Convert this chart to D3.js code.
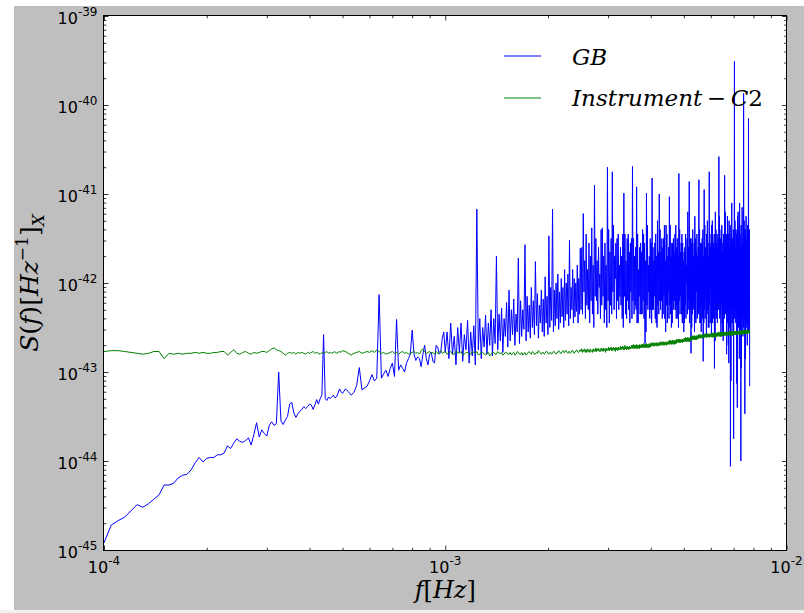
<!DOCTYPE html>
<html>
<head>
<meta charset="utf-8">
<script src="https://cdn.jsdelivr.net/npm/d3@7"></script>
<style>
  body { margin: 0; background: #ffffff; }
  svg { display: block; }
</style>
</head>
<body>
<div id="grafico"></div>
<script>
// Bandas de frecuencia (mHz): inicio, paso, cantidad de bins
const bandas = [
  [0.100, 0.005, 81],
  [0.51, 0.01, 50],
  [1.0125, 0.0125, 120],
  [2.5125, 0.0125, 424]
];

// Señal GB, log10 de S(f) por banda
const gb1 = [
  -44.92, -44.72, -44.67, -44.63, -44.56, -44.49, -44.52, -44.48, -44.43, -44.38,
  -44.27, -44.27, -44.25, -44.19, -44.16, -44.15, -44.10, -44.02, -43.96, -44.01,
  -43.97, -43.96, -43.96, -43.93, -43.93, -43.91, -43.83, -43.86, -43.80, -43.75,
  -43.78, -43.79, -43.77, -43.74, -43.82, -43.70, -43.57, -43.73, -43.65, -43.69,
  -43.72, -43.60, -43.56, -43.60, -43.58, -43.00, -43.55, -43.59, -43.54, -43.50,
  -43.36, -43.34, -43.46, -43.51, -43.47, -43.44, -43.42, -43.39, -43.41, -43.39,
  -43.36, -43.37, -43.42, -43.37, -43.31, -43.36, -43.30, -43.26, -42.58, -43.30,
  -43.32, -43.28, -43.30, -43.28, -43.26, -43.29, -43.28, -43.24, -43.19, -43.22,
  -43.24
];
const gb2 = [
  -43.19, -43.22, -43.26, -43.23, -43.15, -42.95, -43.20, -43.18, -43.16, -43.10,
  -43.03, -43.10, -43.07, -42.13, -43.07, -43.02, -42.98, -43.05, -42.96, -42.90,
  -43.05, -42.41, -42.98, -42.92, -42.96, -43.00, -42.90, -42.85, -42.80, -42.53,
  -42.80, -42.87, -42.83, -42.85, -42.94, -42.80, -42.70, -42.85, -42.92, -42.80,
  -42.78, -42.88, -42.90, -42.70, -42.72, -42.80, -42.78, -42.62, -42.55, -42.78
];
const gb3 = [
  -42.55, -42.85, -42.45, -42.80, -42.60, -42.92, -42.50, -42.78, -42.45, -42.88,
  -42.58, -42.75, -42.42, -42.90, -42.55, -42.82, -42.48, -42.92, -41.17, -42.75,
  -42.40, -42.85, -42.50, -42.72, -42.36, -42.80, -42.45, -42.70, -42.30, -42.82,
  -42.40, -42.68, -41.70, -42.75, -42.35, -42.65, -42.28, -42.78, -42.40, -42.60,
  -42.22, -42.72, -42.08, -42.65, -42.30, -42.58, -42.18, -42.70, -42.35, -42.55,
  -41.72, -42.68, -42.20, -42.60, -42.30, -42.52, -41.57, -42.65, -42.15, -42.55,
  -42.25, -42.62, -42.05, -42.50, -42.20, -42.58, -41.76, -42.48, -42.12, -42.62,
  -42.25, -42.45, -42.08, -42.55, -42.18, -42.60, -41.93, -42.45, -42.15, -42.58,
  -41.47, -42.50, -42.05, -42.42, -41.17, -42.55, -42.08, -42.48, -42.00, -42.40,
  -41.90, -42.52, -42.10, -42.45, -41.95, -42.38, -42.05, -42.50, -41.85, -42.42,
  -42.00, -42.35, -41.90, -42.48, -41.52, -42.40, -42.05, -42.30, -41.85, -42.45,
  -41.95, -42.38, -42.00, -42.32, -41.80, -42.45, -41.95, -42.35, -41.61, -42.30
];
const gb4 = [
  -41.60, -42.35, -41.22, -42.10, -41.75, -42.40, -41.45, -42.25, -41.85, -42.30, -41.55, -42.45, -41.70, -42.20, -41.38, -42.35, -41.80, -42.50, -40.90, -42.15,
  -41.50, -42.20, -41.75, -42.35, -41.60, -42.05, -41.90, -42.40, -41.40, -42.25, -41.38, -42.15, -41.70, -42.45, -41.55, -42.30, -41.80, -42.50, -40.70, -42.20,
  -41.40, -42.45, -41.65, -42.25, -41.50, -42.35, -40.75, -42.10, -41.35, -42.30, -41.70, -41.95, -41.55, -42.40, -41.50, -42.20, -41.45, -42.30, -41.80, -42.15,
  -41.60, -42.25, -41.70, -42.40, -41.45, -42.50, -40.99, -42.15, -41.45, -42.35, -41.75, -42.40, -41.50, -42.20, -41.45, -42.30, -41.65, -42.45, -41.55, -42.10,
  -41.50, -42.40, -40.69, -42.20, -41.50, -42.35, -41.70, -42.25, -41.60, -42.30, -40.92, -42.45, -41.45, -42.45, -41.85, -42.15, -41.60, -42.35, -41.55, -42.35,
  -41.65, -42.35, -41.40, -42.20, -41.45, -42.40, -41.55, -42.68, -41.75, -42.55, -40.99, -42.25, -41.35, -42.30, -41.80, -42.10, -41.70, -42.40, -41.50, -42.30,
  -41.55, -42.45, -40.82, -42.30, -41.60, -42.30, -41.75, -42.15, -41.55, -42.40, -41.45, -42.45, -41.70, -42.50, -41.30, -42.25, -41.65, -42.35, -41.00, -42.20,
  -41.40, -42.30, -41.65, -42.20, -41.50, -42.40, -41.60, -42.35, -41.50, -42.15, -41.35, -42.40, -41.75, -42.55, -41.35, -42.25, -41.45, -42.45, -41.70, -42.10,
  -41.60, -42.40, -41.03, -42.25, -41.35, -42.35, -41.70, -42.50, -41.55, -42.45, -41.55, -42.20, -41.50, -42.30, -41.65, -42.20, -41.45, -42.30, -41.35, -42.40,
  -41.60, -42.25, -41.50, -42.40, -41.70, -42.50, -40.77, -42.20, -41.40, -42.35, -41.65, -42.15, -41.55, -42.35, -41.45, -42.45, -41.55, -42.30, -41.75, -42.55,
  -41.65, -42.45, -41.60, -42.25, -41.45, -42.40, -41.80, -42.00, -41.50, -42.35, -41.20, -42.30, -41.60, -42.20, -40.86, -42.45, -41.60, -42.30, -41.50, -42.79,
  -41.55, -42.50, -41.50, -42.35, -41.40, -42.25, -41.70, -42.30, -41.55, -42.55, -41.25, -42.40, -41.50, -42.45, -41.65, -42.10, -41.45, -42.40, -41.70, -42.30,
  -41.60, -42.35, -40.84, -42.30, -41.40, -42.45, -41.55, -42.45, -41.65, -42.55, -41.55, -42.25, -41.50, -42.40, -41.40, -42.88, -41.70, -42.45, -40.95, -42.30,
  -41.35, -42.40, -41.60, -42.20, -41.65, -42.60, -41.45, -42.35, -41.30, -42.30, -41.55, -42.50, -41.70, -42.50, -40.75, -42.25, -41.45, -42.45, -41.60, -42.05,
  -41.55, -42.60, -41.35, -42.35, -41.30, -42.45, -41.65, -42.40, -41.55, -42.30, -41.45, -42.96, -41.60, -42.65, -41.20, -42.30, -41.40, -42.40, -41.55, -42.30,
  -41.45, -42.45, -41.60, -42.30, -41.50, -42.30, -40.58, -42.20, -41.25, -42.40, -41.60, -42.35, -41.50, -42.60, -41.40, -42.25, -41.35, -42.45, -41.65, -42.55,
  -41.55, -42.65, -41.45, -42.30, -41.50, -42.40, -40.79, -42.25, -41.20, -42.35, -41.60, -42.25, -41.45, -42.80, -41.50, -42.45, -41.25, -42.35, -41.55, -42.70,
  -41.45, -42.90, -41.30, -42.35, -41.60, -42.50, -41.35, -44.06, -41.50, -43.10, -41.45, -42.30, -41.10, -42.45, -41.55, -42.40, -41.50, -42.55, -41.40, -43.75,
  -41.50, -42.20, -39.51, -42.40, -41.30, -42.30, -41.60, -42.45, -41.40, -42.35, -41.45, -43.13, -41.55, -43.40, -41.25, -42.30, -41.20, -42.50, -41.50, -42.45,
  -41.40, -42.85, -41.10, -42.30, -41.45, -42.55, -41.60, -44.00, -41.35, -42.95, -41.55, -42.40, -41.15, -42.35, -41.60, -42.60, -41.50, -42.50, -39.87, -42.35,
  -41.30, -42.40, -41.45, -43.47, -41.40, -42.85, -41.40, -42.30, -41.25, -42.45, -41.55, -42.50, -41.50, -42.70, -41.35, -42.40, -41.45, -42.40, -40.15, -42.55,
  -41.50, -42.45, -41.40, -43.16
];

// Ruido del instrumento C2, log10 de S(f) por banda
const inst1 = [
  -42.77, -42.76, -42.76, -42.77, -42.78, -42.79, -42.80, -42.79, -42.77, -42.77,
  -42.85, -42.79, -42.80, -42.79, -42.80, -42.79, -42.79, -42.78, -42.79, -42.78,
  -42.79, -42.79, -42.78, -42.78, -42.77, -42.77, -42.81, -42.78, -42.75, -42.79,
  -42.80, -42.78, -42.77, -42.79, -42.80, -42.78, -42.79, -42.78, -42.77, -42.77,
  -42.78, -42.76, -42.74, -42.73, -42.75, -42.76, -42.77, -42.79, -42.81, -42.79,
  -42.78, -42.79, -42.78, -42.80, -42.78, -42.79, -42.78, -42.79, -42.80, -42.78,
  -42.79, -42.78, -42.77, -42.79, -42.78, -42.79, -42.80, -42.78, -42.79, -42.78,
  -42.77, -42.79, -42.78, -42.79, -42.78, -42.77, -42.79, -42.78, -42.77, -42.78,
  -42.76
];
const inst2 = [
  -42.77, -42.79, -42.81, -42.79, -42.78, -42.77, -42.79, -42.78, -42.77, -42.78,
  -42.76, -42.78, -42.75, -42.77, -42.79, -42.78, -42.80, -42.79, -42.78, -42.77,
  -42.79, -42.78, -42.80, -42.78, -42.77, -42.79, -42.78, -42.80, -42.79, -42.78,
  -42.77, -42.79, -42.78, -42.80, -42.76, -42.74, -42.77, -42.79, -42.78, -42.77,
  -42.79, -42.78, -42.80, -42.77, -42.79, -42.78, -42.76, -42.79, -42.78, -42.77
];
const inst3 = [
  -42.80, -42.78, -42.77, -42.80, -42.80, -42.77, -42.78, -42.79, -42.77, -42.81,
  -42.80, -42.78, -42.78, -42.80, -42.80, -42.77, -42.78, -42.79, -42.77, -42.81,
  -42.80, -42.78, -42.78, -42.80, -42.81, -42.79, -42.78, -42.82, -42.80, -42.78,
  -42.78, -42.80, -42.80, -42.77, -42.79, -42.79, -42.78, -42.81, -42.80, -42.78,
  -42.78, -42.80, -42.80, -42.78, -42.81, -42.79, -42.78, -42.81, -42.80, -42.77,
  -42.78, -42.80, -42.80, -42.78, -42.81, -42.79, -42.78, -42.81, -42.80, -42.78,
  -42.77, -42.79, -42.80, -42.77, -42.78, -42.80, -42.80, -42.78, -42.79, -42.76,
  -42.77, -42.79, -42.80, -42.78, -42.78, -42.80, -42.79, -42.77, -42.77, -42.79,
  -42.80, -42.78, -42.78, -42.80, -42.79, -42.77, -42.77, -42.79, -42.80, -42.78,
  -42.78, -42.76, -42.77, -42.79, -42.79, -42.77, -42.76, -42.78, -42.78, -42.76,
  -42.76, -42.78, -42.79, -42.77, -42.77, -42.79, -42.78, -42.76, -42.76, -42.78,
  -42.79, -42.77, -42.77, -42.75, -42.76, -42.78, -42.78, -42.76, -42.75, -42.77
];
const inst4 = [
  -42.74, -42.78, -42.75, -42.77, -42.74, -42.78, -42.75, -42.78, -42.74, -42.77, -42.75, -42.78, -42.74, -42.77, -42.76, -42.78, -42.74, -42.77, -42.75, -42.77,
  -42.73, -42.77, -42.74, -42.76, -42.73, -42.77, -42.75, -42.77, -42.73, -42.76, -42.74, -42.77, -42.73, -42.76, -42.74, -42.78, -42.73, -42.76, -42.74, -42.76,
  -42.72, -42.76, -42.73, -42.75, -42.72, -42.76, -42.73, -42.76, -42.72, -42.75, -42.73, -42.77, -42.72, -42.75, -42.73, -42.76, -42.72, -42.75, -42.73, -42.75,
  -42.71, -42.75, -42.72, -42.74, -42.71, -42.75, -42.72, -42.75, -42.70, -42.74, -42.72, -42.75, -42.71, -42.74, -42.72, -42.75, -42.71, -42.74, -42.72, -42.74,
  -42.70, -42.73, -42.70, -42.74, -42.69, -42.73, -42.70, -42.74, -42.70, -42.73, -42.69, -42.74, -42.70, -42.73, -42.70, -42.74, -42.69, -42.73, -42.70, -42.73,
  -42.69, -42.72, -42.69, -42.73, -42.68, -42.72, -42.69, -42.73, -42.69, -42.72, -42.68, -42.73, -42.69, -42.72, -42.69, -42.73, -42.68, -42.72, -42.69, -42.72,
  -42.67, -42.71, -42.68, -42.70, -42.67, -42.71, -42.68, -42.71, -42.67, -42.70, -42.68, -42.71, -42.67, -42.70, -42.68, -42.71, -42.67, -42.70, -42.68, -42.70,
  -42.66, -42.70, -42.67, -42.69, -42.66, -42.70, -42.67, -42.70, -42.66, -42.69, -42.67, -42.70, -42.66, -42.69, -42.67, -42.70, -42.66, -42.69, -42.67, -42.69,
  -42.65, -42.68, -42.65, -42.69, -42.64, -42.68, -42.65, -42.69, -42.65, -42.68, -42.64, -42.69, -42.65, -42.68, -42.65, -42.69, -42.64, -42.68, -42.65, -42.68,
  -42.63, -42.67, -42.64, -42.66, -42.63, -42.67, -42.64, -42.67, -42.63, -42.66, -42.64, -42.67, -42.63, -42.66, -42.64, -42.67, -42.63, -42.66, -42.64, -42.66,
  -42.62, -42.65, -42.62, -42.66, -42.61, -42.65, -42.62, -42.66, -42.62, -42.65, -42.61, -42.66, -42.62, -42.65, -42.62, -42.66, -42.61, -42.65, -42.62, -42.65,
  -42.60, -42.63, -42.60, -42.64, -42.59, -42.63, -42.60, -42.64, -42.60, -42.63, -42.59, -42.64, -42.60, -42.63, -42.60, -42.64, -42.59, -42.63, -42.60, -42.63,
  -42.58, -42.62, -42.59, -42.61, -42.58, -42.62, -42.59, -42.62, -42.58, -42.61, -42.59, -42.62, -42.58, -42.61, -42.59, -42.62, -42.58, -42.61, -42.59, -42.61,
  -42.57, -42.61, -42.58, -42.60, -42.57, -42.61, -42.58, -42.61, -42.57, -42.60, -42.58, -42.61, -42.57, -42.60, -42.58, -42.61, -42.57, -42.60, -42.58, -42.60,
  -42.57, -42.60, -42.57, -42.61, -42.56, -42.60, -42.57, -42.61, -42.57, -42.60, -42.56, -42.61, -42.57, -42.60, -42.57, -42.61, -42.56, -42.60, -42.57, -42.60,
  -42.56, -42.59, -42.56, -42.60, -42.55, -42.59, -42.56, -42.60, -42.56, -42.59, -42.55, -42.60, -42.56, -42.59, -42.56, -42.60, -42.55, -42.59, -42.56, -42.59,
  -42.55, -42.59, -42.56, -42.58, -42.55, -42.59, -42.56, -42.59, -42.55, -42.58, -42.56, -42.59, -42.55, -42.58, -42.56, -42.59, -42.55, -42.58, -42.56, -42.58,
  -42.55, -42.58, -42.55, -42.59, -42.54, -42.58, -42.55, -42.59, -42.55, -42.58, -42.54, -42.59, -42.55, -42.58, -42.55, -42.59, -42.54, -42.58, -42.55, -42.58,
  -42.54, -42.58, -42.55, -42.57, -42.54, -42.58, -42.55, -42.58, -42.54, -42.57, -42.55, -42.58, -42.54, -42.57, -42.55, -42.58, -42.54, -42.57, -42.55, -42.57,
  -42.54, -42.57, -42.54, -42.58, -42.53, -42.57, -42.54, -42.58, -42.54, -42.57, -42.53, -42.58, -42.54, -42.57, -42.54, -42.58, -42.53, -42.57, -42.54, -42.57,
  -42.53, -42.57, -42.54, -42.56, -42.53, -42.57, -42.54, -42.57, -42.53, -42.56, -42.54, -42.57, -42.53, -42.56, -42.54, -42.57, -42.53, -42.56, -42.54, -42.56,
  -42.53, -42.56, -42.53, -42.56
];

// Etiquetas de los ejes (exponentes de las potencias de 10)
const expX = [-4, -3, -2];
const expY = [-45, -44, -43, -42, -41, -40, -39];

// Tamaño y area de la grafica
const w = 804;
const h = 613;
const izq = 104, der = 786.5, arriba = 16, abajo = 550;
const fuenteMat = "'DejaVu Serif', serif";
const fuenteNum = "'DejaVu Sans', sans-serif";

// Frecuencias en Hz de cada bin
const frec = bandas.flatMap(([ini, paso, n]) =>
  d3.range(n).map(i => +(ini + i * paso).toFixed(4) * 1e-3));

const serieGB = [].concat(gb1, gb2, gb3, gb4).map((v, i) => [frec[i], Math.pow(10, v)]);
const serieInst = [].concat(inst1, inst2, inst3, inst4).map((v, i) => [frec[i], Math.pow(10, v)]);

const x = d3.scaleLog().domain([1e-4, 1e-2]).range([izq, der]);
const y = d3.scaleLog().domain([1e-45, 1e-39]).range([abajo, arriba]);

const svg = d3.select('#grafico')
  .append('svg')
  .attr('width', w)
  .attr('height', h);

// Fondo gris de la figura
svg.append('rect').attr('x', 14).attr('y', 6).attr('width', w - 14).attr('height', 604).attr('fill', '#bfbfbf');
svg.append('rect').attr('x', 0).attr('y', 610).attr('width', w).attr('height', 3).attr('fill', '#f0f0f0');

// Area blanca de la grafica
svg.append('rect').attr('x', izq).attr('y', arriba)
  .attr('width', der - izq).attr('height', abajo - arriba).attr('fill', '#ffffff');

svg.append('clipPath').attr('id', 'recorte')
  .append('rect').attr('x', izq).attr('y', arriba)
  .attr('width', der - izq).attr('height', abajo - arriba);

const linea = d3.line().x(d => x(d[0])).y(d => y(d[1]));

svg.append('path')
  .datum(serieGB)
  .attr('clip-path', 'url(#recorte)')
  .attr('fill', 'none')
  .attr('stroke', '#0000ff')
  .attr('stroke-width', 1)
  .attr('stroke-linejoin', 'round')
  .attr('d', linea);

svg.append('path')
  .datum(serieInst)
  .attr('clip-path', 'url(#recorte)')
  .attr('fill', 'none')
  .attr('stroke', '#008000')
  .attr('stroke-width', 1)
  .attr('stroke-linejoin', 'round')
  .attr('d', linea);

// Marcas de los ejes (hacia dentro, en los cuatro lados)
const mayX = expX.map(e => Math.pow(10, e));
const mayY = expY.map(e => Math.pow(10, e));
const menX = [], menY = [];
expX.slice(0, -1).forEach(e => d3.range(2, 10).forEach(k => menX.push(k * Math.pow(10, e))));
expY.slice(0, -1).forEach(e => d3.range(2, 10).forEach(k => menY.push(k * Math.pow(10, e))));

function marcas(eje, valores, largo, tr) {
  svg.append('g')
    .attr('transform', tr)
    .call(eje.tickValues(valores).tickSizeInner(-largo).tickSizeOuter(0).tickFormat(''))
    .call(g => g.select('.domain').remove())
    .call(g => g.selectAll('line').attr('stroke', '#000').attr('stroke-width', 0.8));
}
marcas(d3.axisBottom(x), mayX, 4.5, `translate(0,${abajo})`);
marcas(d3.axisBottom(x), menX, 2.3, `translate(0,${abajo})`);
marcas(d3.axisTop(x), mayX, 4.5, `translate(0,${arriba})`);
marcas(d3.axisTop(x), menX, 2.3, `translate(0,${arriba})`);
marcas(d3.axisLeft(y), mayY, 4.5, `translate(${izq},0)`);
marcas(d3.axisLeft(y), menY, 2.3, `translate(${izq},0)`);
marcas(d3.axisRight(y), mayY, 4.5, `translate(${der},0)`);
marcas(d3.axisRight(y), menY, 2.3, `translate(${der},0)`);

// Marco
svg.append('rect')
  .attr('x', izq - 0.5).attr('y', arriba - 0.5)
  .attr('width', der - izq + 0.5).attr('height', abajo - arriba + 1)
  .attr('fill', 'none').attr('stroke', '#000').attr('stroke-width', 1);

// Etiquetas de las marcas: 10 con exponente
function potencia(sel) {
  sel.append('tspan').attr('font-size', 16).text('10');
  sel.append('tspan').attr('font-size', 12).attr('dy', -8).text(d => '-' + Math.abs(d));
}
svg.selectAll('.etqY')
  .data(expY)
  .enter()
  .append('text')
  .attr('x', izq - 6.5)
  .attr('y', d => y(Math.pow(10, d)) + 8)
  .attr('text-anchor', 'end')
  .attr('font-family', fuenteNum)
  .attr('fill', '#000')
  .call(potencia);

svg.selectAll('.etqX')
  .data(expX)
  .enter()
  .append('text')
  .attr('x', d => x(Math.pow(10, d)))
  .attr('y', 573)
  .attr('text-anchor', 'middle')
  .attr('font-family', fuenteNum)
  .attr('fill', '#000')
  .call(potencia);

// Titulo eje X: f[Hz]
const tx = svg.append('text')
  .attr('x', (izq + der) / 2)
  .attr('y', 598)
  .attr('text-anchor', 'middle')
  .attr('font-family', fuenteMat)
  .attr('font-size', 24);
tx.append('tspan').attr('font-style', 'italic').text('f');
tx.append('tspan').text('[');
tx.append('tspan').attr('font-style', 'italic').text('Hz');
tx.append('tspan').text(']');

// Titulo eje Y: S(f)[Hz^-1]_X
const ty = svg.append('text')
  .attr('transform', `translate(38,${(arriba + abajo) / 2}) rotate(-90)`)
  .attr('text-anchor', 'middle')
  .attr('font-family', fuenteMat)
  .attr('font-size', 25);
ty.append('tspan').attr('font-style', 'italic').text('S');
ty.append('tspan').text('(');
ty.append('tspan').attr('font-style', 'italic').text('f');
ty.append('tspan').text(')[');
ty.append('tspan').attr('font-style', 'italic').text('Hz');
ty.append('tspan').attr('font-size', 17).attr('dy', -10).text('\u22121');
ty.append('tspan').attr('dy', 10).text(']');
ty.append('tspan').attr('font-size', 17).attr('font-style', 'italic').attr('dy', 6).text('X');

// Leyenda
const leyenda = [
  { color: '#0000ff', y: 56 },
  { color: '#008000', y: 98 }
];
leyenda.forEach(l => {
  svg.append('line')
    .attr('x1', 504).attr('x2', 541)
    .attr('y1', l.y).attr('y2', l.y)
    .attr('stroke', l.color).attr('stroke-width', 1);
});
const t1 = svg.append('text').attr('x', 572).attr('y', 65)
  .attr('font-family', fuenteMat).attr('font-size', 23);
t1.append('tspan').attr('font-style', 'italic').text('GB');

const t2 = svg.append('text').attr('x', 572).attr('y', 106)
  .attr('font-family', fuenteMat).attr('font-size', 23);
t2.append('tspan').attr('font-style', 'italic').text('Instrument');
t2.append('tspan').text('\u2009\u2212\u2009');
t2.append('tspan').attr('font-style', 'italic').text('C');
t2.append('tspan').text('2');
</script>
</body>
</html>
